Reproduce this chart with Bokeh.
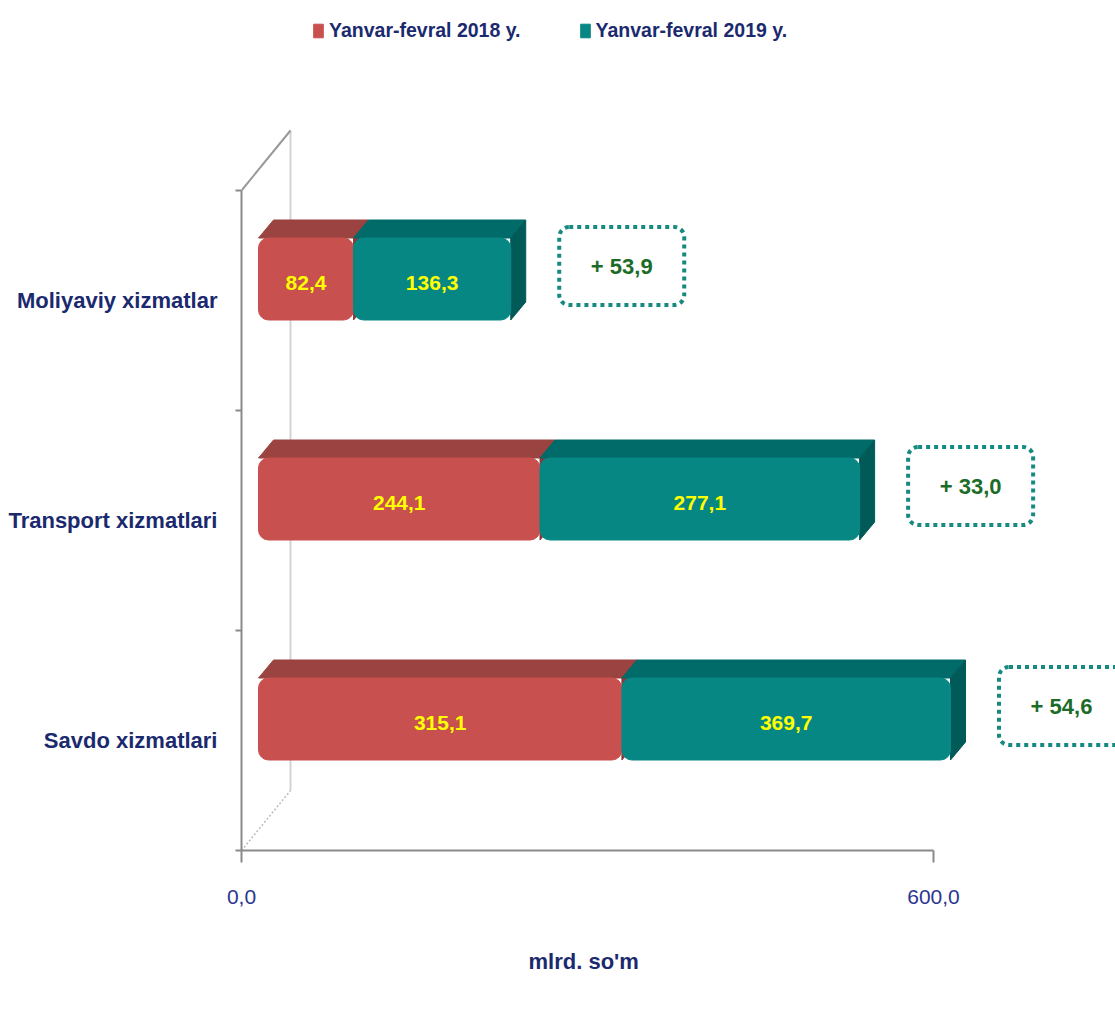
import numpy as np
from bokeh.plotting import figure
from bokeh.models import Range1d, FixedTicker, Legend, LegendItem, ColumnDataSource, Title
from bokeh.core.properties import value
from bokeh.embed import file_html
from bokeh.resources import INLINE

# ---------------- data ----------------
categories = ["Savdo xizmatlari", "Transport xizmatlari", "Moliyaviy xizmatlar"]  # bottom -> top
series_names = ["Yanvar-fevral 2018 y.", "Yanvar-fevral 2019 y."]
values_2018 = [315.1, 244.1, 82.4]
values_2019 = [369.7, 277.1, 136.3]
x_ticks = [0, 600]
x_tick_labels = ["0,0", "600,0"]
axis_title = "mlrd. so'm"

# ---------------- style / layout ----------------
FONT = "'Liberation Sans', Arial, sans-serif"
NAVY = "#1B2A6E"
RED_FRONT, RED_TOP, RED_SIDE = "#C8504E", "#9A4341", "#8A3A38"
TEAL_FRONT, TEAL_TOP, TEAL_SIDE = "#078784", "#006B69", "#005A58"

W, H = 1115, 1019
LEFT, BOTTOM = 241, 169
FRAME_W, FRAME_H = W - LEFT, H - BOTTOM
AXIS_MAX = 600
PX_PER_X = 692 / 600.0
BAND_PX = 220.0


def px_x(px):
    return px / PX_PER_X


def px_y(px):
    return px / BAND_PX


X_END = px_x(FRAME_W)
Y_START = -0.5
Y_END = Y_START + px_y(FRAME_H)

SX, SY = px_x(17), px_y(21.5)      # bar plane shift
DX, DY = px_x(15), px_y(18)        # bar depth
BH = px_y(82)                       # bar front height
WX, WY = px_x(49), px_y(60)         # wall depth

p = figure(width=W, height=H, x_range=Range1d(0, X_END), y_range=Range1d(Y_START, Y_END),
           output_backend="svg", toolbar_location=None,
           min_border_left=LEFT, min_border_bottom=BOTTOM, min_border_top=0, min_border_right=0,
           outline_line_color=None, background_fill_color="white", border_fill_color="white")
p.grid.visible = False

# ---------------- walls ----------------
n = len(categories)
y_bot, y_top = Y_START, Y_START + n
p.line([WX, WX], [y_bot + WY, y_top + WY], line_color="#D4D4D4", line_width=2)
p.line([0, WX], [y_top, y_top + WY], line_color="#999999", line_width=2)
p.line([0, WX], [y_bot, y_bot + WY], line_color="#BBBBBB", line_width=1.5, line_dash="2 2")

# ---------------- bars ----------------
pos = np.arange(n, dtype=float)
v18 = np.array(values_2018)
v19 = np.array(values_2019)
l18 = np.zeros(n)
r18 = np.minimum(v18, AXIS_MAX)
l19 = r18
r19 = np.minimum(v18 + v19, AXIS_MAX)

yc = pos + SY
top = yc + BH / 2
bot = yc - BH / 2

front_renderers = []
for (lft, rgt, vals, cf, ct, cs) in [(l18, r18, v18, RED_FRONT, RED_TOP, RED_SIDE),
                                      (l19, r19, v19, TEAL_FRONT, TEAL_TOP, TEAL_SIDE)]:
    L = lft + SX
    R = rgt + SX
    top_xs = [[a, b, b + DX, a + DX] for a, b in zip(L, R)]
    top_ys = [[t, t, t + DY, t + DY] for t in top]
    p.patches(top_xs, top_ys, fill_color=ct, line_color=ct, line_width=1)
    side_xs = [[b, b + DX, b + DX, b] for b in R]
    side_ys = [[bb, bb + DY, t + DY, t] for bb, t in zip(bot, top)]
    p.patches(side_xs, side_ys, fill_color=cs, line_color=cs, line_width=1)
    fr = p.quad(left=L, right=R, bottom=bot, top=top, fill_color=cf, line_color=cf,
                line_width=1, border_radius=10)
    front_renderers.append(fr)
    src = ColumnDataSource(dict(x=(L + R) / 2, y=yc - px_y(4),
                                t=[f"{v:.1f}".replace(".", ",") for v in vals]))
    p.text(x="x", y="y", text="t", source=src, text_color="#FFFF00",
           text_font=value(FONT), text_font_style="bold", text_font_size="21px",
           text_align="center", text_baseline="middle")

# ---------------- difference boxes ----------------
diff = v19 - v18
bx = r19 + SX + px_x(111)
by = yc + px_y(13)
bw, bh = px_x(125), px_y(78)
p.quad(left=bx - bw / 2, right=bx + bw / 2, bottom=by - bh / 2, top=by + bh / 2,
       fill_color=None, line_color="#168A80", line_width=4, line_dash="4 4", border_radius=10)
dsrc = ColumnDataSource(dict(x=bx, y=by, t=["+ " + f"{d:.1f}".replace(".", ",") for d in diff]))
p.text(x="x", y="y", text="t", source=dsrc, text_color="#1C6B28",
       text_font=value(FONT), text_font_style="bold", text_font_size="22px",
       text_align="center", text_baseline="middle")

# ---------------- axes ----------------
xa = p.xaxis[0]
xa.ticker = FixedTicker(ticks=x_ticks, minor_ticks=[])
xa.major_label_overrides = {t: s for t, s in zip(x_ticks, x_tick_labels)}
xa.bounds = (0, AXIS_MAX)
xa.axis_line_color = "#8A8A8A"
xa.axis_line_width = 2
xa.major_tick_line_color = "#8A8A8A"
xa.major_tick_line_width = 2
xa.major_tick_out = 12
xa.major_tick_in = 0
xa.minor_tick_out = 0
xa.major_label_standoff = 27
xa.major_label_text_font = FONT
xa.major_label_text_font_size = "21px"
xa.major_label_text_color = "#2C3590"

# axis title, centred under the 0..600 span of the axis
title = Title(text=axis_title, align="left", offset=287, standoff=80,
              text_font=FONT, text_font_style="bold", text_font_size="22px",
              text_color=NAVY)
p.add_layout(title, "below")

ya = p.yaxis[0]
ya.ticker = FixedTicker(ticks=list(range(n)), minor_ticks=[i - 0.5 for i in range(n + 1)])
ya.major_label_overrides = {i: c for i, c in enumerate(categories)}
ya.bounds = (y_bot, y_top)
ya.axis_line_color = "#8A8A8A"
ya.axis_line_width = 2
ya.major_tick_out = 0
ya.major_tick_in = 0
ya.minor_tick_out = 6
ya.minor_tick_in = 0
ya.minor_tick_line_color = "#8A8A8A"
ya.minor_tick_line_width = 2
ya.major_label_standoff = 18
ya.major_label_text_font = FONT
ya.major_label_text_font_style = "bold"
ya.major_label_text_font_size = "22px"
ya.major_label_text_color = NAVY

# ---------------- legend ----------------
legend = Legend(items=[LegendItem(label=series_names[0], renderers=[front_renderers[0]]),
                       LegendItem(label=series_names[1], renderers=[front_renderers[1]])],
                location=(71, 808), orientation="horizontal",
                glyph_width=12, glyph_height=17, label_standoff=5, spacing=58,
                padding=0, margin=0, border_line_color=None, background_fill_alpha=0,
                label_text_font=FONT, label_text_font_style="bold",
                label_text_font_size="19.5px", label_text_color=NAVY)
p.add_layout(legend)

open("out.html", "w").write(file_html(p, INLINE))
